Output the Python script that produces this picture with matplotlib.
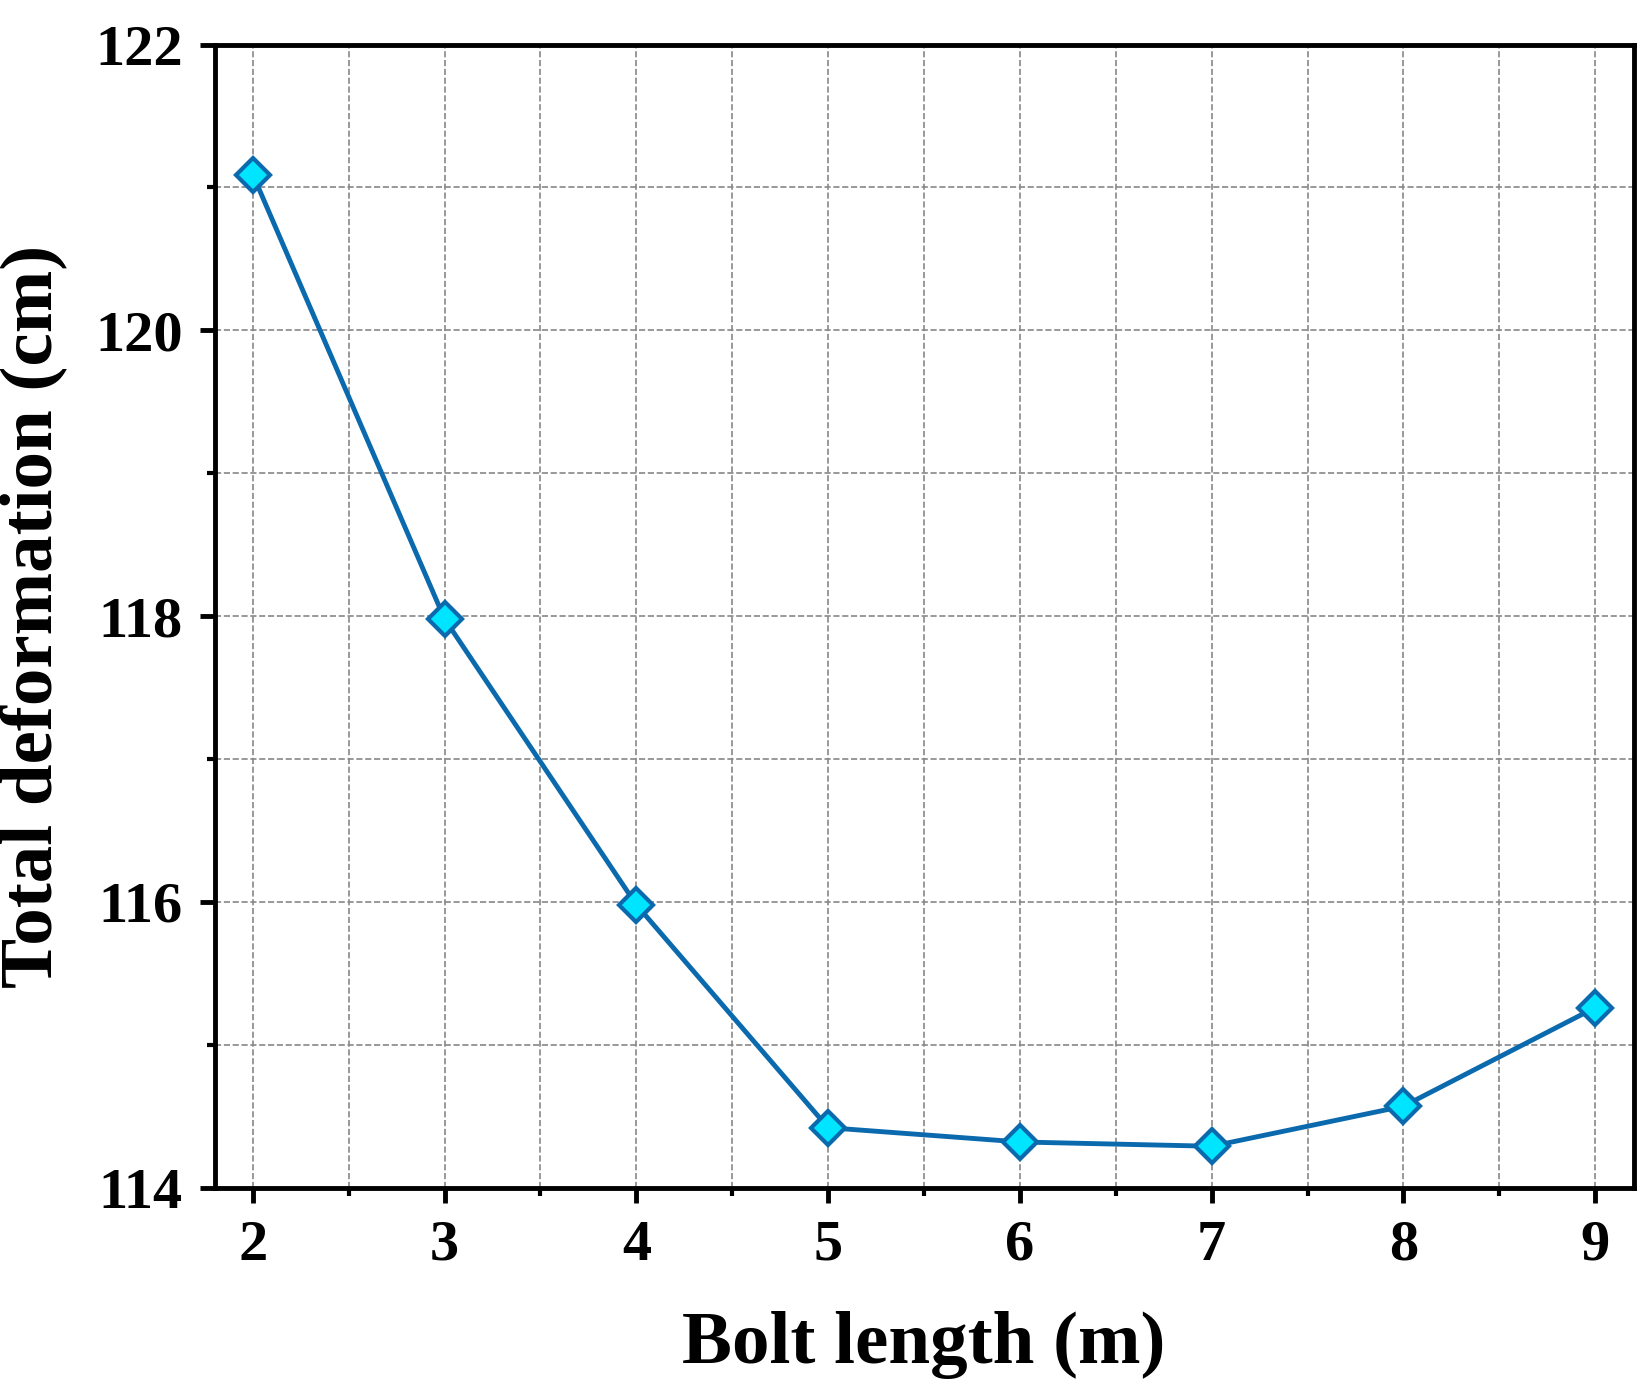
import matplotlib.pyplot as plt
import matplotlib as mpl
from matplotlib.ticker import MultipleLocator

mpl.rcParams['font.family'] = 'Liberation Serif'
mpl.rcParams['font.weight'] = 'bold'

bolt_length = [2, 3, 4, 5, 6, 7, 8, 9]
deformation = [121.09, 117.98, 115.98, 114.42, 114.32, 114.29, 114.57, 115.26]

fig = plt.figure(figsize=(16.5, 13.94), dpi=100)
ax = fig.add_axes([0.130, 0.148, 0.860, 0.820])
ax.plot(bolt_length, deformation, color='#0a6aad', linewidth=3.5, marker='D',
        markersize=17, markerfacecolor='#00e5ff', markeredgecolor='#0a6aad',
        markeredgewidth=3, zorder=3)

ax.set_xlim(1.8, 9.2)
ax.set_ylim(114, 122)
ax.xaxis.set_major_locator(MultipleLocator(1))
ax.xaxis.set_minor_locator(MultipleLocator(0.5))
ax.yaxis.set_major_locator(MultipleLocator(2))
ax.yaxis.set_minor_locator(MultipleLocator(1))
ax.grid(True, which='both', linestyle='--', color='#888888', linewidth=1.2)
ax.set_axisbelow(True)
for s in ax.spines.values():
    s.set_linewidth(3.5)
ax.tick_params(which='major', direction='out', length=11, width=3.5, labelsize=42, pad=12)
ax.tick_params(which='minor', direction='out', length=6, width=3)
for lab in ax.get_xticklabels() + ax.get_yticklabels():
    lab.set_fontweight('bold')
ax.set_xlabel('Bolt length (m)', fontsize=54, fontweight='bold', labelpad=28)
ax.set_ylabel('Total deformation (cm)', fontsize=54, fontweight='bold', labelpad=20)

fig.savefig('out.png', dpi=100)
